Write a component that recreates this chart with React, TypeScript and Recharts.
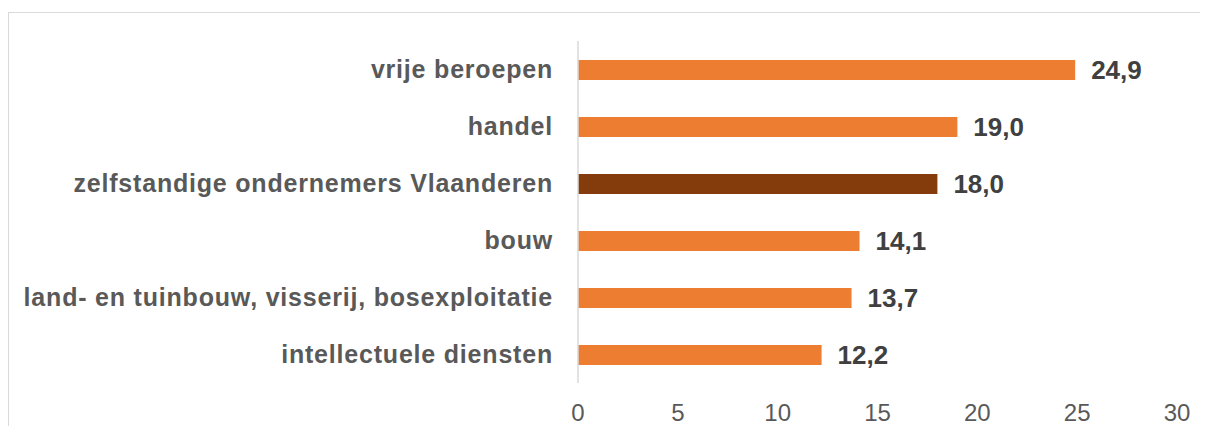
import React from "react";
import { BarChart, Bar, XAxis, YAxis, Cell, LabelList } from "recharts";

const categories = [
  "vrije beroepen",
  "handel",
  "zelfstandige ondernemers Vlaanderen",
  "bouw",
  "land- en tuinbouw, visserij, bosexploitatie",
  "intellectuele diensten",
];
const values = [24.9, 19.0, 18.0, 14.1, 13.7, 12.2];
const highlighted = "zelfstandige ondernemers Vlaanderen";
const xTicks = [0, 5, 10, 15, 20, 25, 30];

const data = categories.map((name, i) => ({ name, value: values[i] }));

const ORANGE = "#ED7D31";
const BROWN = "#843C0C";
const FONT = "'Liberation Sans', Arial, sans-serif";

export default function App() {
  return (
    <div style={{ position: "relative", width: 1208, height: 434, margin: -8, overflow: "hidden", background: "#fff" }}>
      <div
        style={{
          position: "absolute",
          left: 8,
          top: 12,
          width: 1220,
          height: 440,
          borderTop: "1.5px solid #D9D9D9",
          borderLeft: "1.5px solid #D9D9D9",
        }}
      />
      <div style={{ position: "absolute", left: 0, top: 0 }}>
        <BarChart
          width={1208}
          height={434}
          data={data}
          layout="vertical"
          margin={{ top: 41, right: 31, bottom: 0, left: 0 }}
          barSize={20}
        >
          <XAxis
            type="number"
            domain={[0, 30]}
            ticks={xTicks}
            axisLine={false}
            tickLine={false}
            tickSize={0}
            tickMargin={21}
            height={51}
            interval={0}
            tick={{ fill: "#595959", fontSize: 24, fontFamily: FONT }}
          />
          <YAxis
            type="category"
            dataKey="name"
            width={578}
            axisLine={{ stroke: "#D9D9D9", strokeWidth: 1.5 }}
            tickLine={false}
            tickSize={0}
            tickMargin={25}
            interval={0}
            tick={{ fill: "#595959", fontSize: 25, fontWeight: "bold", fontFamily: FONT, letterSpacing: 0.8 }}
          />
          <Bar dataKey="value" isAnimationActive={false}>
            {data.map((d) => (
              <Cell key={d.name} fill={d.name === highlighted ? BROWN : ORANGE} />
            ))}
            <LabelList
              dataKey="value"
              position="right"
              offset={16}
              formatter={(v: number) => v.toFixed(1).replace(".", ",")}
              style={{ fill: "#404040", fontSize: 26, fontWeight: "bold", fontFamily: FONT }}
            />
          </Bar>
        </BarChart>
      </div>
    </div>
  );
}
